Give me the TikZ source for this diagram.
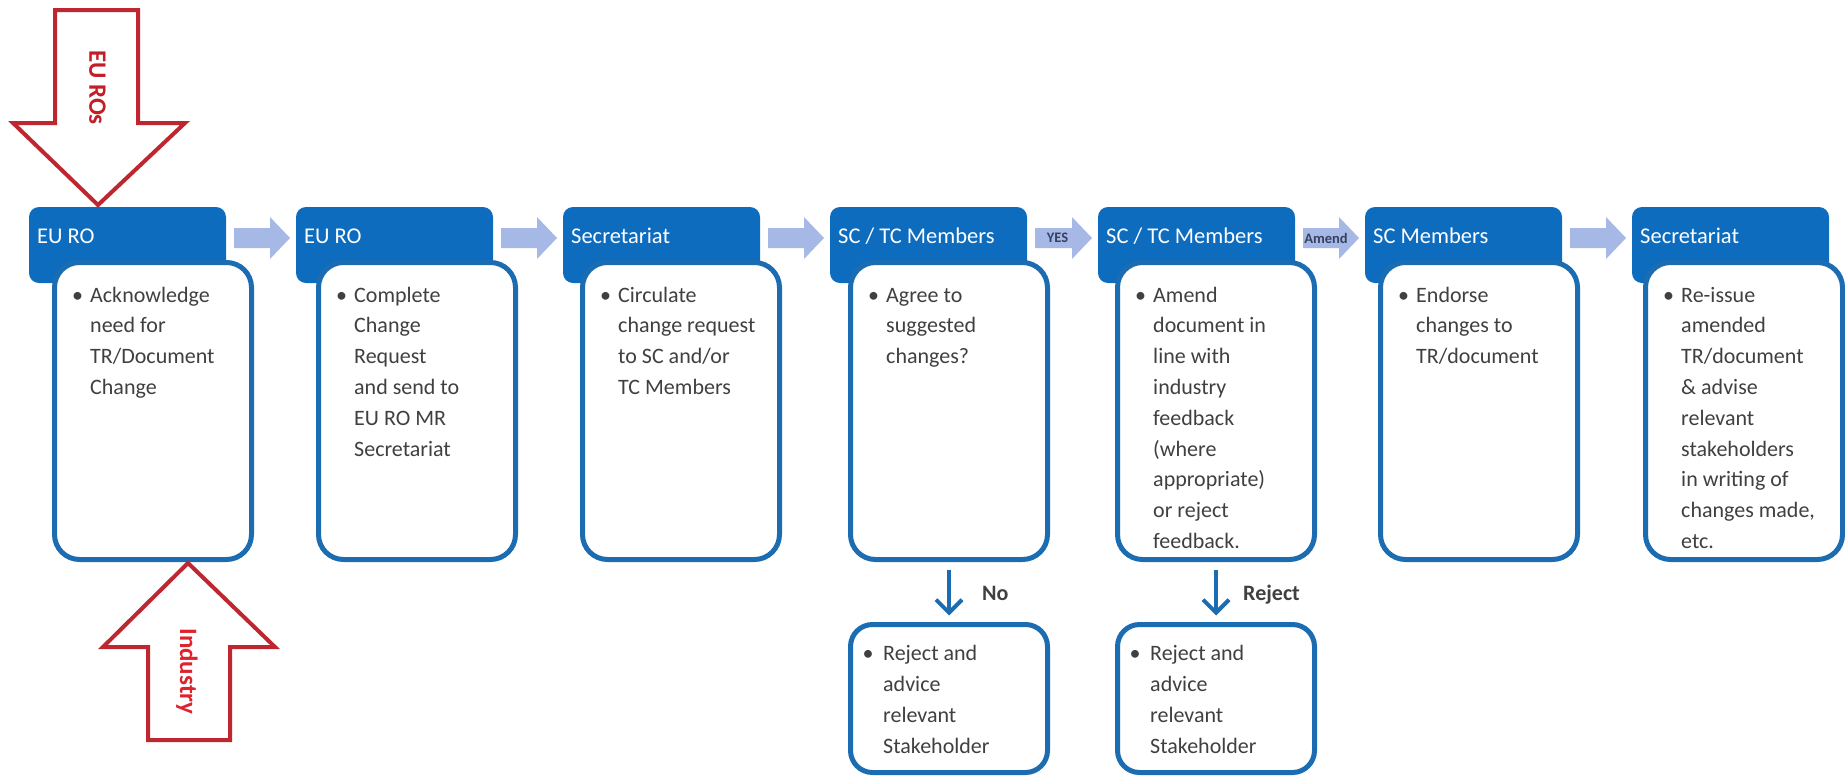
\documentclass[tikz,border=0pt]{standalone}
\usepackage{fontspec}
\setmainfont{Carlito}
\usetikzlibrary{calc,arrows.meta}
\definecolor{hdrblue}{RGB}{14,108,190}
\definecolor{brdblue}{RGB}{28,108,178}
\definecolor{chevc}{RGB}{166,184,230}
\definecolor{redarr}{RGB}{190,38,48}
\definecolor{rotxt}{RGB}{195,30,40}
\definecolor{indtxt}{RGB}{222,35,45}
\definecolor{txtgray}{RGB}{64,64,64}
\definecolor{labc}{RGB}{55,65,95}
\tikzset{
 hdr/.style={fill=hdrblue, rounded corners=10pt, minimum width=197pt, minimum height=76pt, inner sep=0pt, outer sep=0pt, anchor=north west},
 hdrtxt/.style={text=white, font=\fontsize{22.5}{27}\selectfont, inner sep=0pt, anchor=base west},
 bodybox/.style={draw=brdblue, line width=5pt, fill=white, rounded corners=25pt, minimum width=197pt, minimum height=297pt, inner sep=0pt, outer sep=0pt, anchor=north west},
 rejbox/.style={bodybox, minimum height=148pt, rounded corners=22pt},
 btxt/.style={text=txtgray, font=\fontsize{22}{30}\selectfont, inner sep=0pt, anchor=base west},
 bul/.style={btxt, anchor=base},
 chev/.style={fill=chevc},
 chevtxt/.style={font=\bfseries\fontsize{14.5}{16}\selectfont, text=labc, inner sep=0pt},
 redarrow/.style={draw=redarr, line width=4pt, miter limit=20, fill=white},
 vtxt/.style={font=\bfseries\fontsize{25}{28}\selectfont, inner sep=0pt, rotate=-90},
 downarr/.style={draw=brdblue, line width=4pt, -{Straight Barb[length=13pt,width=26pt]}},
 declab/.style={font=\bfseries\fontsize{22}{26}\selectfont, text=txtgray, inner sep=0pt, anchor=base west}
}
\newcommand\stepblock[5]{%
 \node[hdr] (h#1) at (#2,207) {};
 \node[hdrtxt] (h#1t) at ($(h#1.north west)+(8,36)$) {#4};
 \node[bodybox] (b#1) at (#3+2.5,262.5) {};
 \node[bul] (b#1u) at ($(b#1.north west)+(23,39.5)$) {•};
 \foreach \ln [count=\k] in {#5} {\node[btxt] (b#1l\k) at ($(b#1.north west)+(35.5,{39.5+(\k-1)*30.8})$) {\ln};}
}
\newcommand\rejblock[2]{%
 \node[rejbox] (r#1) at (#2+2.5,624.5) {};
 \node[bul] (r#1u) at ($(r#1.north west)+(17.5,35.5)$) {•};
 \foreach \ln [count=\k] in {Reject and,advice,relevant,Stakeholder} {\node[btxt] (r#1l\k) at ($(r#1.north west)+(32.5,{35.5+(\k-1)*31})$) {\ln};}
}
\newcommand\chevron[3]{%
 \fill[chev] ($(#1.east)+(8,-17)$) -- ($(#2.west)+(-6-#3,-17)$) -- ($(#2.west)+(-6-#3,-28)$) -- ($(#2.west)+(-6,-7)$) -- ($(#2.west)+(-6-#3,14)$) -- ($(#2.west)+(-6-#3,3)$) -- ($(#1.east)+(8,3)$) -- cycle;}
\begin{document}
\begin{tikzpicture}[x=1pt,y=-1pt]
\useasboundingbox (0,0) rectangle (1845,777);
\stepblock{1}{29}{52}{EU RO}{Acknowledge,need for,TR/Document,Change}
\stepblock{2}{296}{316}{EU RO}{Complete,Change,Request,and send to,EU RO MR,Secretariat}
\stepblock{3}{563}{580}{Secretariat}{Circulate,change request,to SC and/or,TC Members}
\stepblock{4}{830}{848}{SC / TC Members}{Agree to,suggested,changes?}
\stepblock{5}{1098}{1115}{SC / TC Members}{Amend,document in,line with,industry,feedback,{{(where}},{{appropriate)}},or reject,feedback.}
\stepblock{6}{1365}{1378}{SC Members}{Endorse,changes to,TR/document}
\stepblock{7}{1632}{1643}{Secretariat}{Re-issue,amended,TR/document,\& advise,relevant,stakeholders,in writing of,{changes made,},etc.}
\chevron{h1}{h2}{20}
\chevron{h2}{h3}{20}
\chevron{h3}{h4}{20}
\chevron{h4}{h5}{20}
\chevron{h5}{h6}{20}
\chevron{h6}{h7}{20}
\node[chevtxt] (yes) at ($(h4.east)!0.5!(h5.west)+(-5,-7)$) {YES};
\node[chevtxt] (amend) at ($(h5.east)!0.5!(h6.west)+(-4,-7)$) {Amend};
\rejblock{1}{848}
\rejblock{2}{1115}
\draw[downarr] ($(b4.south)+(0,10)$) -- ($(r1.north)+(0,-9)$);
\draw[downarr] ($(b5.south)+(0,10)$) -- ($(r2.north)+(0,-9)$);
\node[declab] (no) at ($(b4.south)+(33,40.5)$) {No};
\node[declab] (rej) at ($(b5.south)+(27,40.5)$) {Reject};
\draw[redarrow] (55,10) -- (138,10) -- (138,123) -- (185,123) -- (98,205) -- (13,123) -- (55,123) -- cycle;
\node[vtxt, text=rotxt] (eur) at (97.5,87.5) {EU ROs};
\draw[redarrow] (188,563) -- (275,647) -- (230,647) -- (230,740) -- (148,740) -- (148,647) -- (103,647) -- cycle;
\node[vtxt, text=indtxt] (ind) at (187,671.5) {Industry};
\end{tikzpicture}
\end{document}
